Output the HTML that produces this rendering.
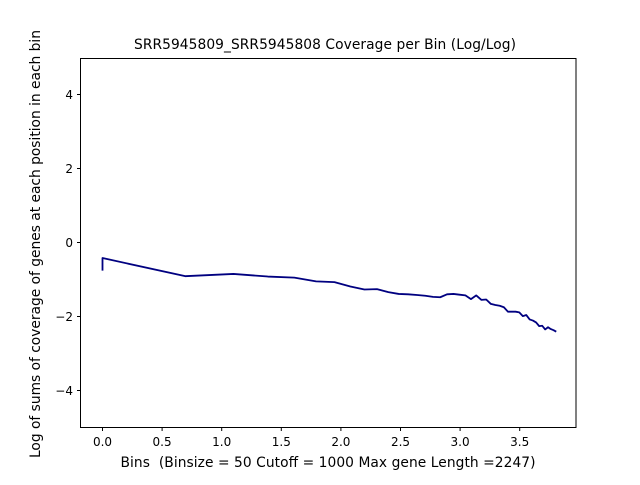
<!DOCTYPE html>
<html><head><meta charset="utf-8"><style>
body{margin:0;background:#fff}
svg text{font-family:"DejaVu Sans","Liberation Sans",sans-serif;fill:#000;white-space:pre}
</style></head><body>
<svg id="chart" width="640" height="480" xmlns="http://www.w3.org/2000/svg">
<rect width="640" height="480" fill="#fff"/>
<text x="325" y="49" font-size="13.8" text-anchor="middle" textLength="382">SRR5945809_SRR5945808 Coverage per Bin (Log/Log)</text>
<text x="328" y="467" font-size="13.8" text-anchor="middle" textLength="415">Bins  (Binsize = 50 Cutoff = 1000 Max gene Length =2247)</text>
<text transform="translate(40,244) rotate(-90)" font-size="13.8" text-anchor="middle" textLength="428">Log of sums of coverage of genes at each position in each bin</text>
<g id="ticks"></g>
<path id="line" fill="none" stroke="#000080" stroke-width="1.8" stroke-linejoin="round"/>
<rect x="80.5" y="58.5" width="495.5" height="369" fill="none" stroke="#000" stroke-width="1"/>
</svg>
<script>
const binIndex=[1,1,2,3,4,5,6,7,8,9,10,11,12,13,14,15,16,17,18,19,20,21,22,23,24,25,26,27,28,29,30,31,32,33,34,35,36,37,38,39,40,41,42,43,44,45];
const logCoverage=[-0.76,-0.42,-0.91,-0.85,-0.92,-0.95,-1.05,-1.07,-1.19,-1.27,-1.26,-1.34,-1.39,-1.40,-1.42,-1.44,-1.47,-1.48,-1.40,-1.39,-1.41,-1.43,-1.53,-1.43,-1.55,-1.54,-1.66,-1.69,-1.71,-1.75,-1.87,-1.87,-1.87,-1.89,-1.99,-1.96,-2.08,-2.11,-2.16,-2.26,-2.25,-2.35,-2.29,-2.34,-2.37,-2.41];
const xTicks=[0,0.5,1,1.5,2,2.5,3,3.5];
const yTicks=[-4,-2,0,2,4];
const sx=v=>102.5+v*119.2;
const sy=v=>242.5-v*37;
const NS="http://www.w3.org/2000/svg";
const g=document.getElementById('ticks');
xTicks.forEach(t=>{
 const l=document.createElementNS(NS,'line');
 
 
 l.setAttribute('x1',sx(t));l.setAttribute('x2',sx(t));l.setAttribute('y1',427.5);l.setAttribute('y2',431);l.setAttribute('stroke','#000');g.appendChild(l);
 const tx=document.createElementNS(NS,'text');
 
 
 tx.setAttribute('x',sx(t));tx.setAttribute('y',446);tx.setAttribute('font-size','12');tx.setAttribute('text-anchor','middle');tx.textContent=t.toFixed(1);g.appendChild(tx);
});
yTicks.forEach(t=>{
 const l=document.createElementNS(NS,'line');
 
 
 l.setAttribute('x1',77);l.setAttribute('x2',80.5);l.setAttribute('y1',sy(t));l.setAttribute('y2',sy(t));l.setAttribute('stroke','#000');g.appendChild(l);
 const tx=document.createElementNS(NS,'text');
 
 
 tx.setAttribute('x',73);tx.setAttribute('y',sy(t)+4.5);tx.setAttribute('font-size','12');tx.setAttribute('text-anchor','end');tx.textContent=t<0?'\u2212'+Math.abs(t):String(t);g.appendChild(tx);
});
document.getElementById('line').setAttribute('d',binIndex.map((b,i)=>(i?'L':'M')+sx(Math.log(b)).toFixed(2)+','+sy(logCoverage[i]).toFixed(2)).join(''));
</script>
</body></html>
